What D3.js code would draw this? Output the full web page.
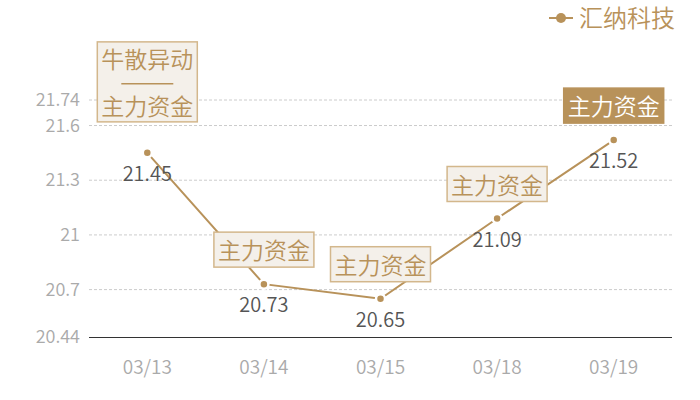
<!DOCTYPE html>
<html>
<head>
<meta charset="utf-8">
<script src="https://cdn.jsdelivr.net/npm/d3@7"></script>
<style>
  body { margin: 0; background: #fff; }
  text { font-family: "Noto Sans CJK SC", "Noto Sans", sans-serif; font-weight: 350; }
</style>
</head>
<body>
<svg id="chart" width="700" height="400"></svg>
<script>
var dates = ["03/13", "03/14", "03/15", "03/18", "03/19"];
var prices = [21.45, 20.73, 20.65, 21.09, 21.52];
var yTicks = [20.44, 20.7, 21, 21.3, 21.6, 21.74];
var notes = [["牛散异动", "——", "主力资金"], ["主力资金"], ["主力资金"], ["主力资金"], ["主力资金"]];
var seriesName = "汇纳科技";

var gold = "#b8925a";
var svg = d3.select("#chart");

var xScale = d3.scaleBand().domain(dates).range([89, 672]);
var yScale = d3.scaleLinear().domain([20.44, 21.74]).range([337, 100]);

function cx(d) { return xScale(d) + xScale.bandwidth() / 2; }

// grid lines
svg.append("g").selectAll("line")
  .data(yTicks.slice(1))
  .enter().append("line")
  .attr("x1", 89).attr("x2", 672)
  .attr("y1", function(d) { return yScale(d); })
  .attr("y2", function(d) { return yScale(d); })
  .attr("stroke", "#ccc")
  .attr("stroke-dasharray", "3,2")
  .attr("stroke-width", 1);

// y axis labels
var yAxis = d3.axisLeft(yScale).tickValues(yTicks).tickSize(0).tickPadding(9)
  .tickFormat(function(d) { return String(d); });
var yg = svg.append("g").attr("transform", "translate(89,0)").call(yAxis);
yg.select(".domain").remove();
yg.selectAll("text").attr("fill", "#aaa").style("font-size", "18px");

// x axis
var xAxis = d3.axisBottom(xScale).tickSize(0).tickPadding(24);
var xg = svg.append("g").attr("transform", "translate(0,337)").call(xAxis);
xg.select(".domain").attr("stroke", "#333").attr("d", "M89,0.5H672");
xg.selectAll("text").attr("fill", "#aaa").style("font-size", "19px");

// line
var line = d3.line()
  .x(function(d, i) { return cx(dates[i]); })
  .y(function(d) { return yScale(d); });

svg.append("path")
  .attr("d", line(prices))
  .attr("fill", "none")
  .attr("stroke", gold)
  .attr("stroke-width", 2);

svg.append("g").selectAll("circle")
  .data(prices)
  .enter().append("circle")
  .attr("cx", function(d, i) { return cx(dates[i]); })
  .attr("cy", function(d) { return yScale(d); })
  .attr("r", 4.5)
  .attr("fill", gold)
  .attr("stroke", "#fff")
  .attr("stroke-width", 2.5);

// value labels
svg.append("g").selectAll("text")
  .data(prices)
  .enter().append("text")
  .attr("x", function(d, i) { return cx(dates[i]); })
  .attr("y", function(d) { return yScale(d) + 28; })
  .attr("text-anchor", "middle")
  .attr("fill", "#555")
  .style("font-size", "20px")
  .text(function(d) { return d.toFixed(2); });

// annotation boxes
notes.forEach(function(lines, i) {
  var x = cx(dates[i]);
  var last = i === notes.length - 1;
  var bottom = yScale(prices[i]) - (lines.length > 1 ? 31 : 17);
  var h = lines.length > 1 ? 80 : 35;
  var g = svg.append("g");
  g.append("rect")
    .attr("x", x - 50).attr("y", bottom - h)
    .attr("width", 100).attr("height", h)
    .attr("fill", last ? gold : "#f4f0ea")
    .attr("stroke", last ? gold : "#d3b78c")
    .attr("stroke-width", 1.5);
  if (lines.length > 1) {
    g.append("text").attr("x", x).attr("y", bottom - h + 26)
      .attr("text-anchor", "middle").attr("fill", gold)
      .style("font-size", "23px").text(lines[0]);
    g.append("line")
      .attr("x1", x - 26).attr("x2", x + 26)
      .attr("y1", bottom - h + 42).attr("y2", bottom - h + 42)
      .attr("stroke", gold).attr("stroke-width", 1.5);
    g.append("text").attr("x", x).attr("y", bottom - 7)
      .attr("text-anchor", "middle").attr("fill", gold)
      .style("font-size", "23px").text(lines[2]);
  } else {
    g.append("text").attr("x", x).attr("y", bottom - 8)
      .attr("text-anchor", "middle").attr("fill", last ? "#fff" : gold)
      .style("font-size", "23px").text(lines[0]);
  }
});

// legend
var lg = svg.append("g").attr("transform", "translate(549,18)");
lg.append("line").attr("x1", 0).attr("x2", 24).attr("y1", 0).attr("y2", 0)
  .attr("stroke", gold).attr("stroke-width", 2);
lg.append("circle").attr("cx", 12).attr("cy", 0).attr("r", 5).attr("fill", gold);
lg.append("text").attr("x", 30).attr("y", 9).attr("fill", gold)
  .style("font-size", "24px").text(seriesName);
</script>
</body>
</html>
